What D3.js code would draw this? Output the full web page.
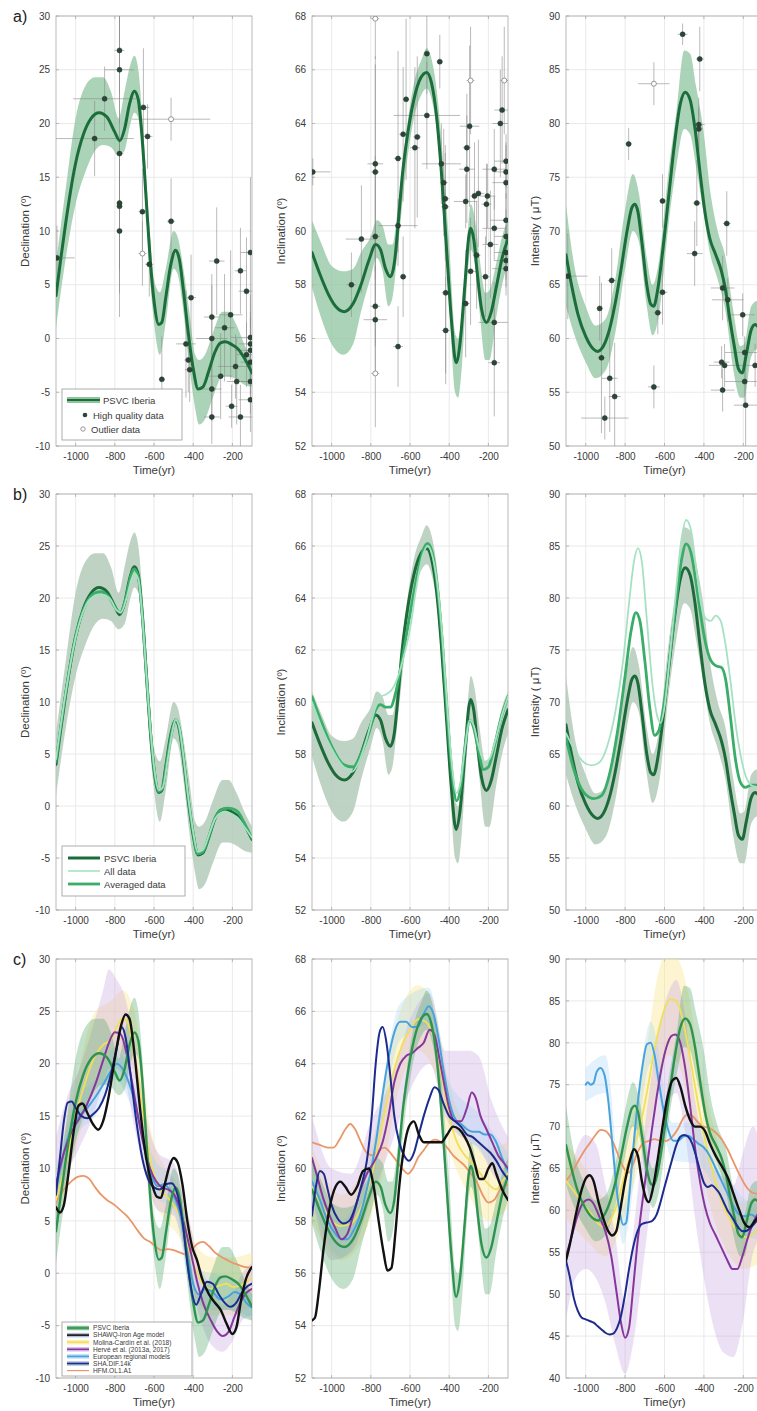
<!DOCTYPE html>
<html>
<head>
<meta charset="utf-8">
<script src="https://cdn.jsdelivr.net/npm/d3@7"></script>
<style>
  html, body { margin: 0; padding: 0; background: #fff; }
  svg { display: block; font-family: "Liberation Sans", Arial, sans-serif; }
</style>
</head>
<body>
<svg id="fig" width="757" height="1411"></svg>
<script>
// ---------- Time axis ----------
const timeDomain = [-1100, -100];
const timeTicks = [-1000, -800, -600, -400, -200];

// ---------- PSVC Iberia curves [t, value] and 95% bands [t, low, high] ----------
const psvcDec = [[-1100,4.0],[-1075,7.5],[-1050,10.8],[-1025,13.8],[-1000,16.3],[-960,19.0],[-920,20.5],[-880,21.0],[-840,20.6],[-800,19.2],[-775,18.4],[-750,19.5],[-725,21.8],[-700,23.0],[-680,22.2],[-660,18.5],[-640,13.0],[-620,7.5],[-600,3.5],[-575,1.3],[-560,1.5],[-540,3.8],[-515,6.8],[-490,8.2],[-470,7.3],[-450,4.5],[-425,0.5],[-400,-2.8],[-375,-4.7],[-350,-4.5],[-320,-3.0],[-290,-1.3],[-260,-0.4],[-235,-0.3],[-200,-0.6],[-170,-1.0],[-140,-1.8],[-100,-3.2]];
const psvcDecBand = [[-1100,1.0,7.0],[-1050,7.5,14],[-1000,12.5,20.5],[-950,15.5,23.5],[-900,17.5,24.3],[-860,18,24.3],[-820,17.8,23],[-780,17.0,20.5],[-750,17.5,23],[-720,20.0,25.5],[-700,21,26.3],[-680,20.5,25],[-650,15,18],[-620,5.5,9.5],[-600,1.5,5.5],[-570,-1.5,4.3],[-540,1.5,6.5],[-500,6.5,10],[-480,6.0,9.5],[-450,2.5,6.5],[-420,-2.5,2.5],[-390,-6.5,-1.5],[-370,-8.0,-2.0],[-340,-7.5,-1.5],[-300,-5.5,0.5],[-250,-3.5,2.5],[-220,-3.5,2.5],[-180,-3.8,1.3],[-140,-4.3,-0.5],[-100,-4.5,-2.0]];

const psvcInc = [[-1100,59.2],[-1060,58.4],[-1020,57.7],[-980,57.2],[-935,57.0],[-890,57.3],[-850,58.0],[-810,58.9],[-775,59.5],[-750,59.3],[-725,58.6],[-700,58.3],[-680,58.8],[-660,60.3],[-640,62.0],[-610,63.7],[-580,64.9],[-545,65.7],[-515,65.9],[-490,65.5],[-465,64.3],[-440,62.2],[-415,59.5],[-390,56.8],[-365,55.1],[-345,55.8],[-320,58.0],[-300,59.8],[-290,60.1],[-275,59.7],[-255,58.3],[-235,57.1],[-210,56.6],[-185,57.0],[-160,57.9],[-130,59.0],[-100,59.7]];
const psvcIncBand = [[-1100,57.9,60.4],[-1050,56.7,59.5],[-1000,55.8,58.7],[-940,55.4,58.5],[-890,55.8,58.6],[-850,57.0,59.2],[-800,58.3,59.8],[-770,59.0,60.4],[-740,58.5,60.2],[-710,57.2,59.5],[-690,57.5,59.5],[-660,59.5,61],[-620,62.3,63.6],[-580,64.2,65.5],[-540,65.1,66.4],[-515,65.3,66.8],[-490,64.9,66.4],[-460,63.5,65],[-430,60.5,62.5],[-400,57.3,59.5],[-370,54.0,56.2],[-355,53.8,56],[-335,55,57],[-310,58.0,59.5],[-290,59.3,61.0],[-270,58.8,60.5],[-245,57.0,59.0],[-215,55.2,57.7],[-195,55.2,57.8],[-160,56.8,58.8],[-130,58,59.8],[-100,58.8,60.4]];

const psvcInt = [[-1100,67.8],[-1070,64.8],[-1040,62.3],[-1000,60.2],[-960,59.0],[-940,58.8],[-910,59.3],[-880,60.8],[-850,63.3],[-820,66.5],[-790,70.0],[-765,72.2],[-750,72.5],[-735,71.8],[-715,69.0],[-690,65.0],[-670,63.2],[-655,63.0],[-635,64.5],[-610,68.0],[-580,73.0],[-550,78.0],[-520,81.8],[-495,82.9],[-470,82.2],[-445,79.5],[-420,75.5],[-395,71.8],[-370,69.3],[-340,67.8],[-310,66.2],[-290,64.5],[-270,62.0],[-245,59.2],[-225,57.2],[-205,56.8],[-185,58.5],[-160,60.8],[-140,61.3],[-120,61.0],[-100,60.6]];
const psvcIntBand = [[-1100,63,72.5],[-1060,60.5,67],[-1000,57.8,63.0],[-950,56.3,61.2],[-900,57.0,61.8],[-850,60.5,65.5],[-800,66.5,72.0],[-760,70.0,75.3],[-730,69.0,73.5],[-690,63.0,67.5],[-660,60.3,65.0],[-630,62.0,67.0],[-580,70.5,75.5],[-540,76,81],[-500,79.5,86.8],[-470,79.0,86.5],[-440,76.0,83.5],[-400,71.5,79.0],[-370,68.0,74.0],[-330,65.5,70],[-290,62.5,67.5],[-250,57.0,62.5],[-215,54.5,59.3],[-195,54.5,59.5],[-160,58.3,63.0],[-130,59.0,63.5],[-100,58.5,63]];

// ---------- Archeomagnetic data [t, value, tErr, valueErr] ----------
const decData = [[-1095,7.5,90,3],[-903,18.6,200,3.5],[-852,22.3,160,3],[-776,26.8,25,4],[-776,25.0,75,5],[-776,17.2,20,13],[-776,12.6,15,6],[-776,12.3,15,6],[-776,10.0,15,8],[-659,11.8,20,4],[-654,21.5,30,5.5],[-633,18.8,25,3],[-624,6.9,20,3],[-560,-3.8,15,4],[-513,10.9,20,4],[-437,-0.5,50,5],[-425,-2.0,20,3],[-418,-2.9,25,3],[-411,3.8,25,4],[-305,2.0,40,4],[-305,0.0,80,5],[-305,-4.7,50,3],[-305,-7.3,40,2.5],[-280,7.2,40,5],[-260,-3.5,60,4],[-240,1.0,50,5],[-209,2.2,60,6],[-184,-2.6,90,3],[-178,-4.0,50,4],[-204,-6.3,30,2],[-159,6.3,30,4],[-159,-7.3,60,3],[-128,4.4,40,5],[-128,-1.5,50,3],[-108,8.0,50,7],[-108,0.1,100,4],[-108,-0.5,60,3],[-108,-1.1,80,3],[-108,-2.2,50,3],[-108,-4.0,50,3],[-108,-5.7,60,3]];
const decOutliers = [[-513,20.4,200,2],[-659,7.9,20,3]];

const incData = [[-1096,62.2,90,0.5],[-899,58.0,25,1.2],[-848,59.7,80,2],[-777,62.5,40,4],[-777,62.2,20,4],[-777,59.8,25,3],[-777,57.2,25,1.5],[-777,56.7,60,2],[-661,55.7,25,1.5],[-661,60.2,100,1],[-661,62.7,20,4],[-635,58.3,15,1.5],[-635,63.6,20,2.5],[-620,64.9,15,3],[-575,63.1,25,3],[-563,63.5,20,3],[-514,66.6,15,1.5],[-514,64.3,170,2],[-448,66.3,15,1],[-440,62.5,100,1.5],[-428,61.8,20,2],[-420,61.2,20,2],[-420,60.9,20,2],[-418,57.7,20,3],[-418,56.3,20,2],[-316,57.3,20,2],[-316,61.1,60,1],[-310,63.1,20,2],[-310,62.3,40,2],[-296,63.9,50,3],[-291,58.5,30,2],[-271,61.3,20,2],[-251,61.4,30,2],[-260,59.1,20,2],[-215,58.3,20,1.5],[-210,61.0,25,1.5],[-205,61.3,40,1.2],[-190,59.5,40,2],[-170,62.3,60,1.5],[-170,60.1,60,1.2],[-170,56.6,80,1.5],[-170,55.1,30,2],[-139,64.0,40,2],[-130,64.5,40,2],[-110,62.6,60,1],[-110,62.2,60,1],[-110,61.8,70,1.5],[-110,60.4,80,1],[-110,59.8,60,1],[-110,59.2,60,1],[-110,58.9,60,1],[-110,58.6,70,1]];
const incOutliers = [[-777,67.9,20,1.5],[-777,54.7,20,2],[-291,65.6,20,2],[-119,65.6,20,2]];

const intData = [[-1091,65.8,100,4],[-929,62.8,15,3],[-920,58.2,20,7],[-903,52.6,120,2],[-878,56.3,40,5],[-853,54.6,30,5],[-868,65.4,20,3],[-782,78.1,15,1.5],[-610,64.3,25,3],[-634,62.4,20,2],[-610,72.8,15,2.5],[-654,55.5,30,2],[-508,88.3,25,1],[-421,86.0,20,3],[-426,79.9,30,2.5],[-426,79.5,20,2],[-436,72.6,20,4],[-447,67.9,40,3],[-284,70.7,20,3],[-305,64.7,60,3],[-279,63.6,80,2],[-310,57.8,40,1.5],[-295,57.5,80,2],[-305,55.2,60,2],[-203,62.2,60,2],[-193,58.7,100,1.5],[-193,56.0,100,2],[-188,53.8,60,4],[-140,57.5,100,2]];
const intOutliers = [[-654,83.7,80,2]];

// ---------- Curves built from all data / averaged data ----------
const allDec = [[-1100,4.5],[-1050,11],[-1000,16.2],[-950,19.2],[-900,20.2],[-860,20.3],[-820,19.8],[-790,18.8],[-770,18.6],[-740,20.0],[-715,21.8],[-700,22.4],[-680,21.8],[-660,18.3],[-640,13],[-620,7.8],[-600,3.8],[-575,1.5],[-555,1.8],[-530,4.5],[-505,7.3],[-490,8.3],[-470,7.5],[-450,4.8],[-425,0.8],[-400,-2.5],[-378,-4.4],[-350,-4.2],[-320,-2.8],[-290,-1.3],[-260,-0.7],[-230,-0.6],[-200,-0.8],[-170,-1.2],[-140,-2.0],[-100,-3.0]];
const avgDec = [[-1100,4.3],[-1050,10.9],[-1000,16.3],[-950,19.3],[-900,20.5],[-870,20.6],[-830,20.1],[-795,19.0],[-772,18.6],[-745,19.9],[-720,22.0],[-702,22.8],[-680,22.0],[-660,18.4],[-640,13],[-620,7.7],[-600,3.7],[-575,1.4],[-557,1.7],[-535,4.2],[-508,7.2],[-490,8.3],[-470,7.4],[-450,4.7],[-425,0.7],[-400,-2.6],[-378,-4.6],[-350,-4.4],[-320,-2.9],[-290,-1.2],[-260,-0.4],[-225,-0.2],[-195,-0.3],[-170,-0.6],[-140,-1.6],[-100,-3.1]];

const allInc = [[-1100,60.0],[-1050,59.0],[-1000,58.2],[-950,57.6],[-900,57.3],[-860,57.7],[-820,58.6],[-780,59.7],[-750,60.2],[-720,60.3],[-690,60.5],[-660,61.0],[-630,61.8],[-600,62.8],[-570,64.3],[-540,65.5],[-510,66.0],[-485,65.6],[-460,64.5],[-435,62.5],[-410,59.8],[-385,57.5],[-365,56.5],[-345,56.8],[-320,58.2],[-295,59.3],[-275,59.1],[-250,58.3],[-220,57.7],[-195,57.8],[-165,58.5],[-130,59.5],[-100,60.2]];
const avgInc = [[-1100,60.2],[-1050,59.2],[-1000,58.3],[-940,57.6],[-890,57.5],[-850,58.0],[-810,58.8],[-775,59.7],[-750,59.9],[-725,59.8],[-700,59.8],[-675,60.3],[-650,61.2],[-620,62.5],[-590,63.8],[-560,65.0],[-530,65.9],[-510,66.1],[-485,65.7],[-460,64.4],[-435,62.3],[-410,59.5],[-385,57.2],[-362,56.2],[-342,56.7],[-318,58.4],[-295,59.3],[-275,59.0],[-250,58.1],[-225,57.4],[-200,57.5],[-170,58.3],[-135,59.4],[-100,60.2]];

const allInt = [[-1100,67.0],[-1060,65.5],[-1010,64.2],[-970,63.9],[-930,64.2],[-890,65.8],[-850,69.0],[-810,74.0],[-780,79.5],[-755,83.5],[-735,84.8],[-715,83.5],[-690,78.0],[-660,71.5],[-635,68.5],[-620,68.0],[-600,69.5],[-575,74.0],[-545,80.0],[-515,85.5],[-490,87.5],[-465,86.5],[-440,83.0],[-415,79.5],[-390,78.0],[-365,77.8],[-340,78.3],[-315,77.8],[-290,75.5],[-265,72.0],[-240,68.0],[-215,65.0],[-190,63.0],[-160,62.0],[-130,61.8],[-100,61.5]];
const avgInt = [[-1100,66.5],[-1060,63.5],[-1010,61.3],[-960,60.7],[-920,61.0],[-880,63.0],[-840,67.0],[-800,72.5],[-770,76.8],[-745,78.6],[-725,77.8],[-700,74.0],[-675,69.5],[-650,66.8],[-630,67.2],[-605,69.5],[-575,74.0],[-545,79.0],[-515,83.5],[-490,85.2],[-465,84.3],[-440,81.5],[-415,78.2],[-390,75.5],[-365,74.0],[-340,73.5],[-310,73.3],[-290,72.2],[-265,68.5],[-240,64.5],[-215,62.3],[-190,61.8],[-160,62.0],[-130,62.0],[-100,61.8]];

// ---------- Other models: declination ----------
const shawqDec = [[-1100,6.3],[-1080,5.8],[-1060,6.5],[-1040,9.0],[-1010,13.5],[-985,16.0],[-965,16.2],[-940,15.3],[-910,14.2],[-885,13.7],[-860,14.5],[-830,17.0],[-800,20.5],[-770,23.5],[-745,24.7],[-725,24.3],[-700,21.0],[-670,15.5],[-640,11.0],[-610,8.5],[-585,7.3],[-565,7.2],[-545,8.5],[-520,10.3],[-500,11.0],[-480,10.6],[-455,8.5],[-430,5.0],[-405,2.5],[-380,1.2],[-355,-0.5],[-320,-2.0],[-290,-2.8],[-260,-3.5],[-230,-4.8],[-200,-5.8],[-180,-5.2],[-155,-2.5],[-130,-0.5],[-100,0.6]];
const molinaDec = [[-1100,7.0],[-1050,10.5],[-1000,15.0],[-950,18.3],[-900,20.8],[-860,21.8],[-820,22.3],[-790,23.5],[-760,24.3],[-735,24.0],[-710,22.0],[-680,18.5],[-650,14.5],[-620,11.0],[-590,8.8],[-560,7.8],[-530,7.2],[-500,6.5],[-470,5.5],[-440,3.5],[-410,1.5],[-380,0.0],[-350,-1.0],[-310,-1.5],[-270,-1.2],[-230,-1.0],[-200,-1.3],[-160,-1.2],[-130,-0.8],[-100,-0.5]];
const molinaDecBand = [[-1100,4,10],[-1000,12,18],[-900,17,25],[-820,19,26],[-760,21,27],[-700,19,25],[-620,8,14],[-540,5,10],[-460,3,8],[-380,-2.5,2.5],[-300,-4,1.5],[-200,-4,1.5],[-100,-3,2]];
const herveDec = [[-1100,8.5],[-1060,11.5],[-1020,13.5],[-980,14.8],[-940,16.2],[-900,18.0],[-860,20.3],[-830,22.0],[-800,23.0],[-770,22.8],[-740,21.0],[-710,18.0],[-680,14.8],[-650,12.0],[-620,10.0],[-590,8.8],[-560,8.2],[-530,8.0],[-500,7.6],[-470,6.3],[-440,4.2],[-410,1.8],[-380,-0.8],[-350,-2.8],[-310,-4.5],[-280,-5.5],[-250,-6.0],[-220,-5.6],[-190,-4.2],[-160,-2.8],[-130,-1.9],[-100,-1.5]];
const herveDecBand = [[-1100,5,13],[-1040,9.5,17],[-980,12,19.5],[-920,14.5,23],[-860,18,27],[-830,19.5,29],[-790,19.5,28],[-750,18.5,26.5],[-700,14,22],[-640,9,15],[-580,6,11.5],[-500,5.5,10.5],[-430,1,6],[-370,-4,1],[-300,-7,-1.5],[-250,-7.5,-3],[-200,-6.5,-2],[-150,-4.5,0],[-100,-4,1]];
const euroDec = [[-1100,8.0],[-1060,11.5],[-1020,14.0],[-980,15.0],[-940,15.8],[-900,16.8],[-860,18.0],[-820,19.3],[-790,20.0],[-760,19.5],[-730,18.3],[-700,16.5],[-670,14.0],[-640,11.5],[-610,9.2],[-580,8.3],[-550,8.5],[-520,8.0],[-490,7.0],[-460,5.0],[-430,2.0],[-400,-1.0],[-370,-2.0],[-340,-1.5],[-300,-1.8],[-260,-2.5],[-220,-2.2],[-190,-1.8],[-160,-2.0],[-130,-2.8],[-100,-3.3]];
const euroDecBand = [[-1100,6,10],[-1000,13,16.5],[-900,15,18.5],[-800,18.5,21.5],[-700,15,18],[-600,7.5,11],[-500,6,9],[-400,-2.5,0.5],[-300,-3.5,0],[-200,-3.5,-0.5],[-100,-4.5,-2]];
const shaDec = [[-1100,7.5],[-1080,11.0],[-1060,14.5],[-1040,16.3],[-1020,16.4],[-1000,15.8],[-970,15.0],[-940,14.8],[-910,15.2],[-880,15.8],[-850,17.0],[-820,19.0],[-790,21.5],[-765,23.5],[-745,22.5],[-720,19.0],[-690,14.5],[-660,11.0],[-630,9.0],[-600,8.2],[-570,8.0],[-540,8.5],[-510,8.6],[-480,7.5],[-455,5.0],[-430,1.0],[-405,-2.0],[-385,-3.0],[-360,-2.0],[-330,-0.8],[-300,-1.0],[-270,-2.0],[-240,-2.8],[-210,-3.2],[-180,-2.8],[-150,-1.8],[-120,-1.2],[-100,-1.0]];
const hfmDec = [[-1100,6.8],[-1060,8.0],[-1020,8.8],[-990,9.2],[-960,9.3],[-930,9.0],[-900,8.2],[-870,7.5],[-840,7.0],[-800,6.5],[-770,6.0],[-740,5.5],[-710,4.8],[-680,4.0],[-650,3.3],[-620,3.0],[-590,2.5],[-560,2.2],[-530,2.3],[-500,2.2],[-470,2.0],[-440,1.8],[-410,2.2],[-380,2.8],[-350,3.0],[-320,2.6],[-290,2.0],[-260,1.6],[-230,1.3],[-200,1.0],[-170,0.8],[-140,0.6],[-100,0.5]];

// ---------- Other models: inclination ----------
const shawqInc = [[-1100,54.2],[-1085,54.3],[-1065,55.3],[-1040,57.0],[-1010,58.5],[-980,59.3],[-955,59.5],[-930,59.3],[-900,59.0],[-870,59.3],[-840,59.9],[-810,60.0],[-785,59.3],[-760,58.0],[-735,56.8],[-715,56.1],[-695,56.2],[-675,57.5],[-655,59.3],[-630,60.8],[-605,61.6],[-580,61.8],[-555,61.3],[-530,61.0],[-500,61.0],[-470,61.0],[-440,61.0],[-410,61.3],[-380,61.6],[-350,61.5],[-320,61.2],[-295,60.8],[-270,60.2],[-245,59.6],[-225,59.6],[-200,60.0],[-180,60.2],[-160,59.8],[-130,59.2],[-100,58.8]];
const molinaInc = [[-1100,59.3],[-1050,58.6],[-1000,58.0],[-950,57.8],[-900,57.9],[-850,58.5],[-800,59.6],[-760,61.0],[-720,62.5],[-680,63.8],[-640,64.7],[-600,65.3],[-560,65.7],[-520,65.6],[-480,65.0],[-440,63.6],[-400,62.0],[-360,61.0],[-320,60.5],[-280,60.2],[-240,59.8],[-200,59.4],[-160,59.2],[-130,59.5],[-100,59.8]];
const molinaIncBand = [[-1100,58,60.8],[-950,56.5,59],[-850,57.2,59.8],[-750,59.5,62.3],[-650,63.2,66],[-560,64.5,67],[-480,63.8,66.3],[-400,60.8,63.2],[-300,59,61.5],[-200,58,60.8],[-100,58.5,61]];
const herveInc = [[-1100,60.4],[-1070,59.6],[-1040,58.8],[-1010,58.2],[-980,57.7],[-950,57.3],[-920,57.5],[-890,58.2],[-860,59.0],[-820,59.8],[-780,60.3],[-740,61.0],[-710,62.0],[-680,63.3],[-650,64.0],[-620,64.3],[-590,64.4],[-560,64.6],[-530,64.8],[-500,65.3],[-475,65.1],[-450,64.2],[-425,63.2],[-400,62.3],[-370,61.8],[-340,61.8],[-310,62.3],[-285,62.9],[-265,62.7],[-240,62.0],[-210,61.5],[-180,61.0],[-150,60.5],[-120,60.2],[-100,60.0]];
const herveIncBand = [[-1100,59,62],[-1000,56.5,60],[-900,56.8,59.8],[-800,58.8,61.8],[-700,60.8,63.3],[-600,63,65.7],[-500,64,66.7],[-420,62,64.5],[-300,61,64.5],[-250,60.8,64.3],[-180,59.8,62.5],[-100,59,61.2]];
const euroInc = [[-1100,59.5],[-1060,58.8],[-1020,58.0],[-980,57.5],[-950,57.3],[-920,57.3],[-890,57.6],[-860,58.1],[-830,58.9],[-800,59.9],[-770,61.2],[-740,62.8],[-710,64.2],[-680,65.2],[-650,65.6],[-620,65.6],[-590,65.4],[-560,65.4],[-530,65.9],[-505,66.2],[-480,65.9],[-455,65.0],[-430,63.8],[-400,62.6],[-370,61.9],[-340,61.7],[-310,61.5],[-280,61.4],[-250,61.4],[-220,61.3],[-190,61.3],[-160,61.0],[-130,60.4],[-100,59.9]];
const euroIncBand = [[-1100,58.8,60.2],[-950,56.6,58],[-800,59.2,60.6],[-650,64.9,66.3],[-505,65.5,66.9],[-400,61.9,63.3],[-250,60.7,62.1],[-100,59.2,60.6]];
const shaInc = [[-1100,58.2],[-1080,59.3],[-1060,59.9],[-1040,59.8],[-1020,59.2],[-1000,58.6],[-970,58.1],[-940,57.9],[-910,58.0],[-880,58.5],[-850,59.3],[-820,60.3],[-795,62.0],[-775,64.0],[-755,65.2],[-740,65.4],[-720,64.8],[-700,63.5],[-680,62.0],[-655,61.0],[-630,60.5],[-605,60.3],[-580,60.6],[-555,61.3],[-530,62.0],[-500,62.7],[-475,63.1],[-455,63.0],[-430,62.5],[-400,62.0],[-370,61.8],[-340,61.6],[-310,61.3],[-280,61.2],[-250,61.0],[-220,60.8],[-190,60.6],[-160,60.3],[-130,59.9],[-100,59.6]];
const hfmInc = [[-1100,61.0],[-1060,60.9],[-1020,60.8],[-990,60.8],[-960,61.1],[-930,61.5],[-905,61.7],[-880,61.5],[-850,61.0],[-820,60.6],[-790,60.5],[-760,60.7],[-730,60.8],[-700,60.6],[-670,60.3],[-640,60.0],[-610,59.8],[-585,60.0],[-560,60.4],[-530,60.7],[-500,61.0],[-470,61.1],[-440,61.0],[-410,60.8],[-380,60.5],[-350,60.3],[-320,60.1],[-290,59.8],[-260,59.5],[-230,59.0],[-200,58.7],[-170,58.8],[-140,59.2],[-100,59.4]];

// ---------- Other models: intensity ----------
const shawqInt = [[-1100,54.0],[-1080,56.0],[-1050,59.5],[-1020,62.5],[-1000,63.8],[-980,64.2],[-960,63.5],[-935,61.0],[-910,59.0],[-885,57.5],[-865,57.0],[-845,57.5],[-825,60.0],[-800,63.5],[-775,66.0],[-755,67.3],[-735,66.5],[-715,63.5],[-695,61.5],[-680,61.0],[-660,62.5],[-635,66.0],[-610,70.0],[-585,73.5],[-560,75.5],[-540,75.8],[-520,74.8],[-495,72.5],[-470,70.8],[-445,70.0],[-420,70.0],[-395,69.5],[-370,68.0],[-340,66.5],[-310,65.3],[-280,64.0],[-250,62.0],[-220,60.0],[-195,58.5],[-170,58.0],[-140,58.8],[-100,60.0]];
const molinaInt = [[-1100,63.5],[-1060,62.3],[-1020,61.0],[-980,59.8],[-940,58.5],[-905,58.0],[-870,59.0],[-840,60.8],[-810,63.5],[-780,66.0],[-750,68.0],[-720,70.5],[-690,74.0],[-660,78.0],[-630,81.5],[-600,84.0],[-570,85.2],[-540,85.0],[-510,83.0],[-480,79.5],[-450,75.5],[-420,71.5],[-390,68.0],[-360,65.0],[-330,62.5],[-300,60.5],[-270,59.0],[-240,57.8],[-210,57.0],[-180,56.8],[-150,57.2],[-120,58.0],[-100,58.5]];
const molinaIntBand = [[-1100,59,68],[-1000,56.5,65],[-900,54.5,61.5],[-800,59.5,67.5],[-700,68,78],[-630,74.5,88.5],[-580,78.5,91],[-530,77.5,90],[-480,73,86],[-420,66,77],[-350,59,70],[-280,55,64],[-200,53,61],[-100,54,63]];
const herveInt = [[-1100,54.5],[-1070,57.0],[-1040,59.5],[-1010,61.0],[-985,61.3],[-960,60.8],[-930,59.2],[-900,57.5],[-870,54.5],[-845,50.5],[-820,46.5],[-800,44.8],[-780,46.0],[-760,50.5],[-740,55.5],[-715,60.5],[-690,65.0],[-665,69.5],[-640,73.5],[-615,77.0],[-590,79.5],[-565,80.8],[-545,81.0],[-520,80.0],[-495,77.0],[-470,72.5],[-445,67.5],[-420,63.5],[-395,60.5],[-370,58.5],[-340,57.0],[-310,55.5],[-280,54.0],[-255,53.0],[-230,53.0],[-205,54.5],[-180,56.5],[-150,58.5],[-120,59.8],[-100,60.3]];
const herveIntBand = [[-1100,47,62],[-1050,52,67],[-1000,53,69],[-950,52,68],[-900,49,63],[-850,44,57],[-800,40.5,49],[-760,44,57],[-700,55,70],[-640,66,80],[-580,73,86],[-540,74,87.5],[-500,70,84],[-450,60,74],[-400,52,68],[-350,46,65],[-300,43,64],[-250,42.5,63],[-200,47,67],[-150,55,70],[-100,57,66]];
const euroInt = [[-1000,75.0],[-990,75.3],[-975,75.0],[-960,75.2],[-945,76.5],[-925,77.0],[-905,76.2],[-885,73.0],[-865,68.0],[-845,63.0],[-825,59.5],[-810,58.3],[-795,58.5],[-780,61.5],[-760,67.0],[-735,73.0],[-710,77.5],[-690,79.8],[-670,80.0],[-650,78.5],[-630,75.5],[-605,72.0],[-580,69.5],[-555,68.3],[-530,68.3],[-505,68.8],[-480,68.9],[-455,68.5],[-430,68.0],[-400,67.5],[-370,66.5],[-340,65.0],[-310,63.5],[-280,62.0],[-250,60.5],[-220,59.5],[-190,59.3],[-160,59.5],[-130,59.0],[-100,58.5]];
const euroIntBand = [[-1000,73,77],[-900,74,78.5],[-810,56,60.5],[-670,77.5,82.5],[-560,66,70.5],[-430,65.5,70.5],[-300,60.5,65],[-200,57,61.5],[-100,56.5,60.5]];
const shaInt = [[-1100,54.0],[-1080,52.0],[-1060,49.5],[-1040,48.0],[-1020,47.2],[-1000,47.0],[-980,46.8],[-960,46.6],[-940,46.2],[-920,45.8],[-900,45.4],[-880,45.2],[-860,45.3],[-840,46.0],[-820,47.5],[-800,50.0],[-780,53.0],[-760,55.5],[-740,57.3],[-720,58.3],[-700,58.5],[-680,58.6],[-660,58.8],[-640,59.5],[-620,61.0],[-600,62.8],[-580,64.5],[-560,66.2],[-540,67.8],[-520,68.8],[-500,69.0],[-480,68.8],[-460,68.0],[-440,66.5],[-420,64.8],[-400,63.3],[-380,62.8],[-360,63.0],[-340,62.6],[-320,62.0],[-300,61.0],[-280,60.0],[-260,59.3],[-240,58.5],[-220,57.8],[-200,57.5],[-180,57.6],[-160,58.0],[-130,58.8],[-100,59.5]];
const hfmInt = [[-1100,63.5],[-1070,64.5],[-1040,65.8],[-1010,67.0],[-980,68.0],[-950,69.0],[-925,69.6],[-900,69.5],[-875,68.8],[-850,67.5],[-825,66.0],[-800,64.8],[-780,64.5],[-760,65.5],[-735,67.0],[-710,68.0],[-680,68.3],[-650,68.5],[-620,68.3],[-590,68.3],[-560,68.8],[-530,69.8],[-505,71.0],[-480,71.5],[-455,71.2],[-430,70.5],[-400,70.0],[-370,69.8],[-340,69.3],[-310,68.5],[-280,67.3],[-250,65.8],[-220,64.3],[-190,63.0],[-160,62.2],[-130,62.0],[-100,62.0]];

// ---------- Legend labels ----------
const legendA = ["PSVC Iberia", "High quality data", "Outlier data"];
const legendB = ["PSVC Iberia", "All data", "Averaged data"];
const legendC = ["PSVC Iberia", "SHAWQ-Iron Age model", "Molina-Cardín et al. (2018)", "Hervé et al. (2013a, 2017)", "European regional models", "SHA.DIF.14k", "HFM.OL1.A1"];

// ---------- Layout ----------
const svg = d3.select("#fig");
const cols = [{x0: 56, x1: 252}, {x0: 312, x1: 508}, {x0: 566, x1: 763}];
const rows = [{y0: 16, y1: 446}, {y0: 494, y1: 910}, {y0: 959, y1: 1378}];
const yLabels = ["Declination (º)", "Inclination (º)", "Intensity ( μT)"];
const tickColor = "#3a3a3a";
const plainNum = d => String(d);   // plain hyphen-minus, no thousands separator
let clipId = 0;

function makePanel(r, c, yDomain, yStep) {
  const C = cols[c], R = rows[r];
  const x = d3.scaleLinear().domain(timeDomain).range([C.x0, C.x1]);
  const y = d3.scaleLinear().domain(yDomain).range([R.y1, R.y0]);
  const g = svg.append("g");
  const yTicks = d3.range(yDomain[0], yDomain[1] + 0.001, yStep);

  // grid
  g.append("g").selectAll("line").data(timeTicks).join("line")
    .attr("x1", d => x(d)).attr("x2", d => x(d))
    .attr("y1", R.y0).attr("y2", R.y1)
    .attr("stroke", "#e4e4e4").attr("stroke-width", 0.8);
  g.append("g").selectAll("line").data(yTicks).join("line")
    .attr("x1", C.x0).attr("x2", C.x1)
    .attr("y1", d => y(d)).attr("y2", d => y(d))
    .attr("stroke", "#e4e4e4").attr("stroke-width", 0.8);

  // frame
  g.append("rect").attr("x", C.x0).attr("y", R.y0)
    .attr("width", C.x1 - C.x0).attr("height", R.y1 - R.y0)
    .attr("fill", "none").attr("stroke", "#a8a8a8").attr("stroke-width", 0.8);

  // small inward ticks
  const tk = g.append("g").attr("stroke", "#a8a8a8").attr("stroke-width", 0.8);
  timeTicks.forEach(t => {
    tk.append("line").attr("x1", x(t)).attr("x2", x(t)).attr("y1", R.y1).attr("y2", R.y1 - 3);
    tk.append("line").attr("x1", x(t)).attr("x2", x(t)).attr("y1", R.y0).attr("y2", R.y0 + 3);
  });
  yTicks.forEach(v => {
    tk.append("line").attr("x1", C.x0).attr("x2", C.x0 + 3).attr("y1", y(v)).attr("y2", y(v));
  });

  // axes via d3.axis, styled lightly
  const xAxis = d3.axisBottom(x).tickValues(timeTicks).tickSize(0).tickPadding(7).tickFormat(plainNum);
  const gx = g.append("g").attr("transform", `translate(0,${R.y1})`).call(xAxis);
  const yAxis = d3.axisLeft(y).tickValues(yTicks).tickSize(0).tickPadding(6).tickFormat(plainNum);
  const gy = g.append("g").attr("transform", `translate(${C.x0},0)`).call(yAxis);
  [gx, gy].forEach(a => {
    a.select(".domain").remove();
    a.selectAll("text").attr("fill", tickColor).attr("font-size", 10)
      .attr("font-family", "Liberation Sans, Arial, sans-serif");
  });

  // axis titles
  g.append("text").attr("x", (C.x0 + Math.min(C.x1, 757)) / 2 + (c === 2 ? 3 : 0))
    .attr("y", R.y1 + 28).attr("text-anchor", "middle")
    .attr("font-size", 11.5).attr("fill", tickColor).text("Time(yr)");
  g.append("text")
    .attr("transform", `translate(${C.x0 - 27},${(R.y0 + R.y1) / 2}) rotate(-90)`)
    .attr("text-anchor", "middle").attr("font-size", 11.5).attr("fill", tickColor)
    .text(yLabels[c]);

  // clipped data layer
  const id = "clip" + (clipId++);
  svg.append("clipPath").attr("id", id).append("rect")
    .attr("x", C.x0).attr("y", R.y0).attr("width", C.x1 - C.x0).attr("height", R.y1 - R.y0);
  const data = g.append("g").attr("clip-path", `url(#${id})`);
  return {x, y, data, g, C, R};
}

function band(p, arr, fill, opacity) {
  const area = d3.area().curve(d3.curveMonotoneX)
    .x(d => p.x(d[0])).y0(d => p.y(d[1])).y1(d => p.y(d[2]));
  p.data.append("path").datum(arr).attr("d", area)
    .attr("fill", fill).attr("fill-opacity", opacity).attr("stroke", "none");
}
function curve(p, arr, color, width, opacity = 1) {
  const line = d3.line().curve(d3.curveMonotoneX).x(d => p.x(d[0])).y(d => p.y(d[1]));
  p.data.append("path").datum(arr).attr("d", line)
    .attr("fill", "none").attr("stroke", color).attr("stroke-width", width)
    .attr("stroke-opacity", opacity).attr("stroke-linejoin", "round").attr("stroke-linecap", "round");
}
function errorBars(p, arr) {
  const eb = p.data.append("g").attr("stroke", "#8c8c8c").attr("stroke-width", 0.8).attr("stroke-opacity", 0.75);
  arr.forEach(d => {
    eb.append("line").attr("x1", p.x(d[0] - d[2])).attr("x2", p.x(d[0] + d[2]))
      .attr("y1", p.y(d[1])).attr("y2", p.y(d[1]));
    eb.append("line").attr("x1", p.x(d[0])).attr("x2", p.x(d[0]))
      .attr("y1", p.y(d[1] - d[3])).attr("y2", p.y(d[1] + d[3]));
  });
}
function dots(p, arr, outlier) {
  p.data.append("g").selectAll("circle").data(arr).join("circle")
    .attr("cx", d => p.x(d[0])).attr("cy", d => p.y(d[1])).attr("r", 2.5)
    .attr("fill", outlier ? "#fff" : "#2b4536")
    .attr("stroke", outlier ? "#8a8a8a" : "#22382b").attr("stroke-width", outlier ? 0.9 : 0.5);
}
function panelLetter(r, txt) {
  svg.append("text").attr("x", 13).attr("y", rows[r].y0 + 6)
    .attr("font-size", 16).attr("fill", "#222").text(txt);
}

// ---------- Row a: PSVC Iberia with data ----------
const aBand = "#8fc49f", aLine = "#1b6d3b";
const aSpecs = [
  {dom: [-10, 30], step: 5, curve: psvcDec, band: psvcDecBand, pts: decData, out: decOutliers},
  {dom: [52, 68], step: 2, curve: psvcInc, band: psvcIncBand, pts: incData, out: incOutliers},
  {dom: [50, 90], step: 5, curve: psvcInt, band: psvcIntBand, pts: intData, out: intOutliers}
];
aSpecs.forEach((s, c) => {
  const p = makePanel(0, c, s.dom, s.step);
  band(p, s.band, aBand, 0.75);
  errorBars(p, s.pts.concat(s.out));
  curve(p, s.curve, aLine, 3);
  dots(p, s.pts, false);
  dots(p, s.out, true);
});
panelLetter(0, "a)");

// ---------- Row b: PSVC vs all data vs averaged data ----------
const bBand = "#b3cbb9", bDark = "#1d6a3a", bLight = "#a6e2c2", bMid = "#3aad68";
const bSpecs = [
  {dom: [-10, 30], step: 5, psvc: psvcDec, band: psvcDecBand, all: allDec, avg: avgDec},
  {dom: [52, 68], step: 2, psvc: psvcInc, band: psvcIncBand, all: allInc, avg: avgInc},
  {dom: [50, 90], step: 5, psvc: psvcInt, band: psvcIntBand, all: allInt, avg: avgInt}
];
bSpecs.forEach((s, c) => {
  const p = makePanel(1, c, s.dom, s.step);
  band(p, s.band, bBand, 0.85);
  curve(p, s.psvc, bDark, 3);
  curve(p, s.avg, bMid, 2.8);
  curve(p, s.all, bLight, 1.8);
});
panelLetter(1, "b)");

// ---------- Row c: comparison with other models ----------
const mColors = {psvc: "#2f9350", shawq: "#111111", molina: "#f1df5a", herve: "#86379c", euro: "#48a2de", sha: "#1d2a8e", hfm: "#e99668"};
const mBands = {psvc: "#4fa567", molina: "#fbe99a", herve: "#c9a6e3", euro: "#9fd0f2"};
const cSpecs = [
  {dom: [-10, 30], step: 5, psvc: psvcDec, psvcB: psvcDecBand, shawq: shawqDec, molina: molinaDec, molinaB: molinaDecBand, herve: herveDec, herveB: herveDecBand, euro: euroDec, euroB: euroDecBand, sha: shaDec, hfm: hfmDec},
  {dom: [52, 68], step: 2, psvc: psvcInc, psvcB: psvcIncBand, shawq: shawqInc, molina: molinaInc, molinaB: molinaIncBand, herve: herveInc, herveB: herveIncBand, euro: euroInc, euroB: euroIncBand, sha: shaInc, hfm: hfmInc},
  {dom: [40, 90], step: 5, psvc: psvcInt, psvcB: psvcIntBand, shawq: shawqInt, molina: molinaInt, molinaB: molinaIntBand, herve: herveInt, herveB: herveIntBand, euro: euroInt, euroB: euroIntBand, sha: shaInt, hfm: hfmInt}
];
cSpecs.forEach((s, c) => {
  const p = makePanel(2, c, s.dom, s.step);
  band(p, s.molinaB, mBands.molina, 0.45);
  band(p, s.herveB, mBands.herve, 0.35);
  band(p, s.euroB, mBands.euro, 0.3);
  band(p, s.psvcB, mBands.psvc, 0.35);
  curve(p, s.hfm, mColors.hfm, 1.8);
  curve(p, s.molina, mColors.molina, 1.8);
  curve(p, s.euro, mColors.euro, 2);
  curve(p, s.herve, mColors.herve, 2);
  curve(p, s.psvc, mColors.psvc, 2.4);
  curve(p, s.sha, mColors.sha, 2);
  curve(p, s.shawq, mColors.shawq, 2.4);
});
panelLetter(2, "c)");

// ---------- Legends ----------
function legendBox(x, y, w, h) {
  svg.append("rect").attr("x", x).attr("y", y).attr("width", w).attr("height", h)
    .attr("fill", "#fff").attr("stroke", "#9a9a9a").attr("stroke-width", 0.8);
}
// row a
(function () {
  const x0 = 62, y0 = 389;
  legendBox(x0, y0, 120, 51);
  const g = svg.append("g").attr("font-size", 9.5).attr("fill", "#3a3a3a");
  g.append("line").attr("x1", x0 + 5).attr("x2", x0 + 38).attr("y1", y0 + 11).attr("y2", y0 + 11)
    .attr("stroke", aBand).attr("stroke-width", 6);
  g.append("line").attr("x1", x0 + 5).attr("x2", x0 + 38).attr("y1", y0 + 11).attr("y2", y0 + 11)
    .attr("stroke", aLine).attr("stroke-width", 2.2);
  g.append("circle").attr("cx", x0 + 23).attr("cy", y0 + 26).attr("r", 2.3).attr("fill", "#2b4536");
  g.append("circle").attr("cx", x0 + 21).attr("cy", y0 + 40).attr("r", 2.2).attr("fill", "#fff")
    .attr("stroke", "#8a8a8a").attr("stroke-width", 0.9);
  g.append("text").attr("x", x0 + 41).attr("y", y0 + 14.5).text(legendA[0]);
  g.append("text").attr("x", x0 + 31).attr("y", y0 + 29.5).text(legendA[1]);
  g.append("text").attr("x", x0 + 29).attr("y", y0 + 43.5).text(legendA[2]);
})();
// row b
(function () {
  const x0 = 62, y0 = 846;
  legendBox(x0, y0, 123, 50);
  const g = svg.append("g").attr("font-size", 9.5).attr("fill", "#3a3a3a");
  const sw = [[bDark, 3], [bLight, 1.6], [bMid, 2.8]];
  sw.forEach((s, i) => {
    const yy = y0 + 12 + i * 13;
    g.append("line").attr("x1", x0 + 6).attr("x2", x0 + 38).attr("y1", yy).attr("y2", yy)
      .attr("stroke", s[0]).attr("stroke-width", s[1]);
    g.append("text").attr("x", x0 + 42).attr("y", yy + 3.5).text(legendB[i]);
  });
})();
// row c
(function () {
  const x0 = 62, y0 = 1322;
  legendBox(x0, y0, 130, 54);
  const g = svg.append("g").attr("font-size", 6.6).attr("fill", "#3a3a3a");
  const keys = ["psvc", "shawq", "molina", "herve", "euro", "sha", "hfm"];
  const bandKey = {psvc: mBands.psvc, shawq: "#9aa0c0", molina: mBands.molina, herve: mBands.herve, euro: mBands.euro, sha: "#8ea4c4", hfm: null};
  keys.forEach((k, i) => {
    const yy = y0 + 6 + i * 7.1;
    if (bandKey[k]) {
      g.append("line").attr("x1", x0 + 5).attr("x2", x0 + 27).attr("y1", yy).attr("y2", yy)
        .attr("stroke", bandKey[k]).attr("stroke-width", 4.5).attr("stroke-opacity", 0.7);
    }
    g.append("line").attr("x1", x0 + 5).attr("x2", x0 + 27).attr("y1", yy).attr("y2", yy)
      .attr("stroke", mColors[k]).attr("stroke-width", k === "hfm" ? 1.2 : 1.6);
    g.append("text").attr("x", x0 + 31).attr("y", yy + 2.3).text(legendC[i]);
  });
})();
</script>
</body>
</html>
